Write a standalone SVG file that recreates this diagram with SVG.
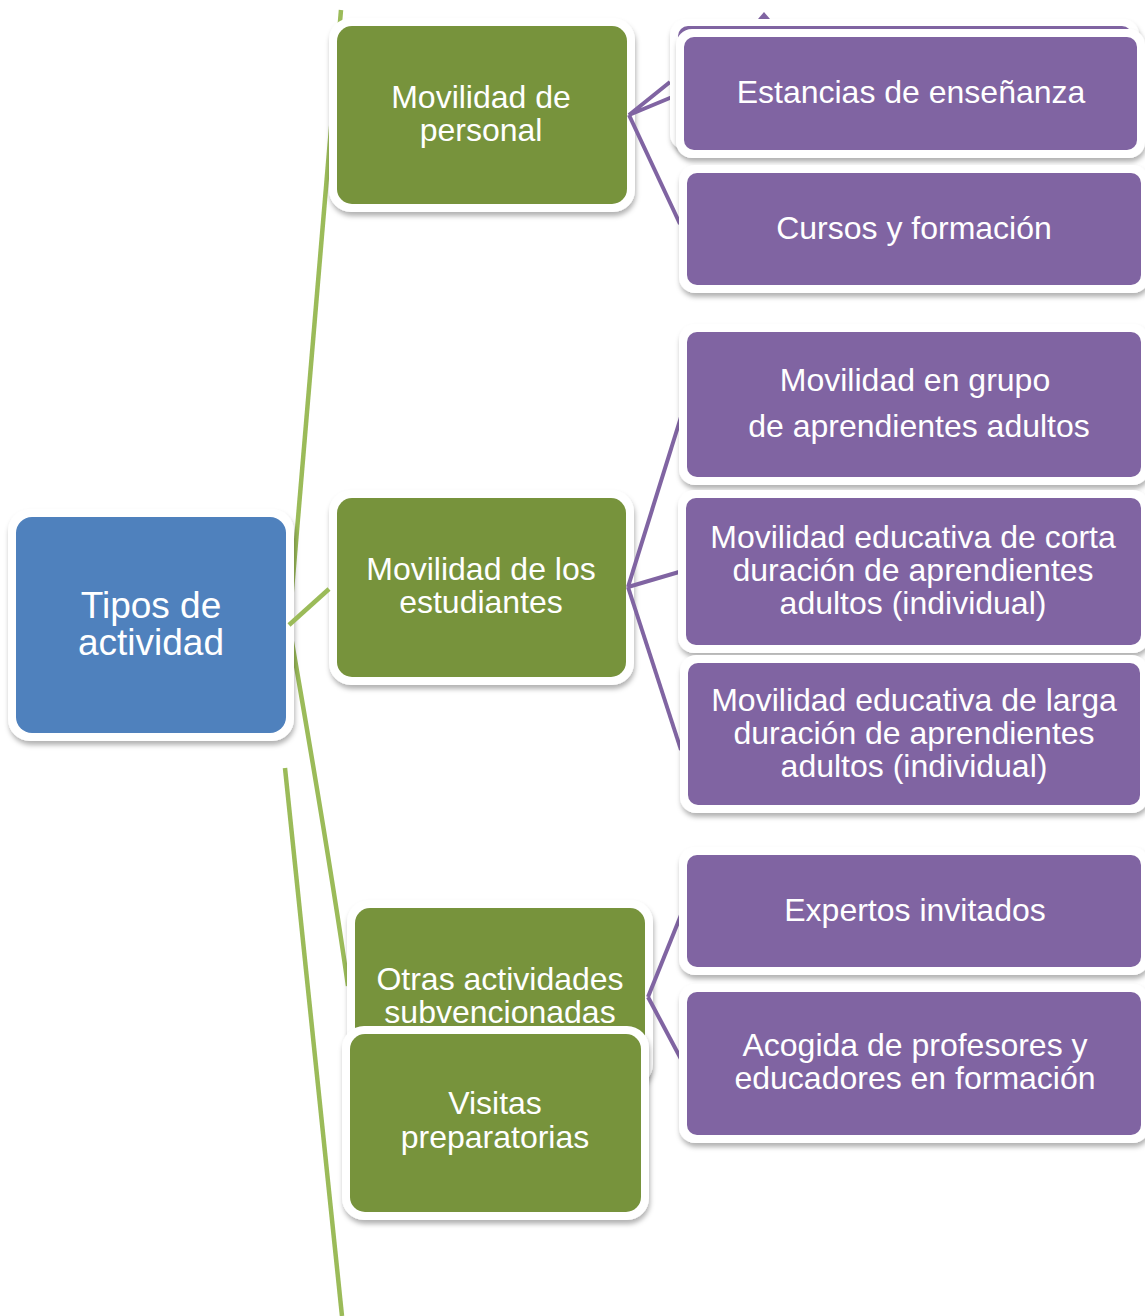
<svg xmlns="http://www.w3.org/2000/svg" width="1145" height="1316" viewBox="0 0 1145 1316">
<style>
.t{font-family:"Liberation Sans",Arial,sans-serif;font-size:32px;fill:#fff;text-anchor:middle}
.tr{font-size:37px}
.o{fill:#fff;filter:url(#sh)}
.g{fill:#77933C}
.p{fill:#8064A2}
.b{fill:#4F81BD}
.gl{stroke:#9BBB59;stroke-width:4.5;fill:none}
.pl{stroke:#8064A2;stroke-width:4;fill:none}
</style>
<defs>
<filter id="sh" x="-10%" y="-10%" width="120%" height="130%">
<feDropShadow dx="1" dy="4" stdDeviation="2.5" flood-color="#000" flood-opacity="0.3"/>
</filter>
</defs>
<rect width="1145" height="1316" fill="#fff"/>
<g id="connectors-green">
<line class="gl" x1="289" y1="625" x2="341" y2="10"/>
<path class="gl" d="M289,625 Q330,860 348,986"/>
<line class="gl" x1="285" y1="768" x2="342" y2="1316"/>
<polygon points="758,19 764,12 770,19" fill="#8064A2"/>
</g>
<g id="root">
<rect class="o" x="8" y="509" width="286" height="232" rx="22"/>
<rect class="b" x="16" y="517" width="270" height="216" rx="16"/>
<text class="t tr" x="151" y="618">Tipos de</text>
<text class="t tr" x="151" y="655">actividad</text>
</g>
<g id="personal">
<rect class="o" x="329" y="18" width="306" height="194" rx="22"/>
<rect class="g" x="337" y="26" width="290" height="178" rx="15"/>
<text class="t" x="481" y="108">Movilidad de</text>
<text class="t" x="481" y="141">personal</text>
</g>
<g id="estudiantes">
<rect class="o" x="329" y="490" width="305" height="195" rx="22"/>
<rect class="g" x="337" y="498" width="289" height="179" rx="15"/>
<text class="t" x="481" y="580">Movilidad de los</text>
<text class="t" x="481" y="613">estudiantes</text>
</g>
<g id="otras">
<rect class="o" x="347" y="900" width="306" height="186" rx="22"/>
<rect class="g" x="355" y="908" width="290" height="170" rx="15"/>
<text class="t" x="500" y="990">Otras actividades</text>
<text class="t" x="500" y="1023">subvencionadas</text>
</g>
<g id="visitas">
<rect class="o" x="342" y="1026" width="307" height="194" rx="22"/>
<rect class="g" x="350" y="1034" width="291" height="178" rx="15"/>
<text class="t" x="495" y="1114">Visitas</text>
<text class="t" x="495" y="1148">preparatorias</text>
</g>
<g id="connectors">
<line class="gl" x1="289" y1="625" x2="329" y2="589"/>
<polyline class="pl" points="670,82 629,115 677,95"/>
<line class="pl" x1="629" y1="115" x2="680" y2="224"/>
<line class="pl" x1="628" y1="587" x2="681" y2="417"/>
<line class="pl" x1="628" y1="587" x2="679" y2="572"/>
<line class="pl" x1="628" y1="587" x2="681" y2="750"/>
<line class="pl" x1="648" y1="997" x2="681" y2="915"/>
<line class="pl" x1="648" y1="997" x2="681" y2="1059"/>
</g>
<g id="hidden-box">
<rect class="o" x="670" y="19" width="469" height="131" rx="16"/>
<rect class="p" x="678" y="26" width="454" height="117" rx="10"/>
</g>
<g id="estancias">
<rect class="o" x="676" y="29" width="469" height="129" rx="16"/>
<rect class="p" x="684" y="37" width="453" height="113" rx="10"/>
<text class="t" x="911" y="103">Estancias de enseñanza</text>
</g>
<g id="cursos">
<rect class="o" x="679" y="165" width="470" height="128" rx="16"/>
<rect class="p" x="687" y="173" width="454" height="112" rx="10"/>
<text class="t" x="914" y="239">Cursos y formación</text>
</g>
<g id="grupo">
<rect class="o" x="679" y="324" width="470" height="161" rx="16"/>
<rect class="p" x="687" y="332" width="454" height="145" rx="10"/>
<text class="t" x="915" y="391">Movilidad en grupo</text>
<text class="t" x="919" y="437">de aprendientes adultos</text>
</g>
<g id="corta">
<rect class="o" x="678" y="490" width="471" height="163" rx="16"/>
<rect class="p" x="686" y="498" width="455" height="147" rx="10"/>
<text class="t" x="913" y="548">Movilidad educativa de corta</text>
<text class="t" x="913" y="581">duración de aprendientes</text>
<text class="t" x="913" y="614">adultos (individual)</text>
</g>
<g id="larga">
<rect class="o" x="680" y="655" width="468" height="158" rx="16"/>
<rect class="p" x="688" y="663" width="452" height="142" rx="10"/>
<text class="t" x="914" y="711">Movilidad educativa de larga</text>
<text class="t" x="914" y="744">duración de aprendientes</text>
<text class="t" x="914" y="777">adultos (individual)</text>
</g>
<g id="expertos">
<rect class="o" x="679" y="847" width="470" height="128" rx="16"/>
<rect class="p" x="687" y="855" width="454" height="112" rx="10"/>
<text class="t" x="915" y="921">Expertos invitados</text>
</g>
<g id="acogida">
<rect class="o" x="679" y="984" width="470" height="159" rx="16"/>
<rect class="p" x="687" y="992" width="454" height="143" rx="10"/>
<text class="t" x="915" y="1056">Acogida de profesores y</text>
<text class="t" x="915" y="1089">educadores en formación</text>
</g>
</svg>
